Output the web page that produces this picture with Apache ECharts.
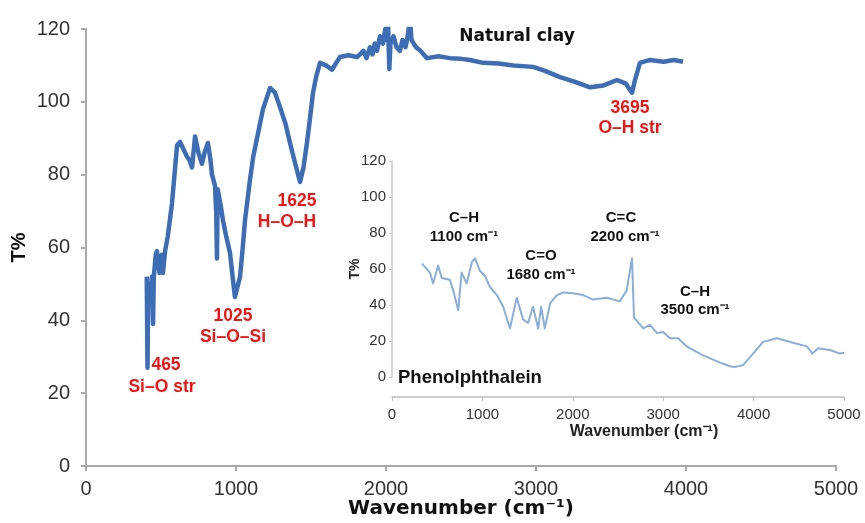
<!DOCTYPE html>
<html><head><meta charset="utf-8">
<script src="https://cdn.jsdelivr.net/npm/echarts@6/dist/echarts.min.js"></script>
<style>html,body{margin:0;padding:0;background:#fff}#c{width:865px;height:523px}</style>
</head><body><div id="c"></div>
<script>
// Natural clay spectrum (main)
const clayWavenumber = [405,410,415,420,440,447,452,465,473,490,505,513,527,545,573,590,607,627,650,673,690,707,727,750,773,790,813,830,840,860,868,873,878,900,913,935,960,980,993,1005,1027,1045,1060,1093,1115,1140,1180,1227,1260,1293,1330,1360,1395,1427,1450,1473,1495,1513,1535,1560,1600,1640,1665,1693,1750,1807,1850,1870,1893,1910,1925,1940,1960,1980,1995,2005,2013,2018,2022,2030,2050,2070,2093,2110,2130,2145,2160,2170,2185,2200,2230,2273,2350,2427,2500,2560,2647,2750,2850,2980,3060,3160,3260,3360,3450,3540,3600,3627,3640,3660,3693,3760,3850,3920,3980];
const clayT = [52,27,50,45,52,39,52,58,59,53,58,53,59,63,72,80,88,89,87,85,84,82,90.5,86,83,86,88.7,84,80,77,70,57,76,71,67.5,63,58.5,51,46.4,46,52,60,67.5,78.5,85,90,98,103.8,102.5,98.6,94,88.7,83,78,82,88.7,96,102.4,107,110.7,110,108.8,110.5,112.3,112.8,112.3,114,112,115,113,116,114,118,116,120,117,123,115,109,116,118,115,114,117,115,118,123,117,116,115,114,112,112.5,112,111.8,111.5,110.7,110.5,110,109.6,108.5,106.8,105.5,104,104.5,106,105,103.2,102.5,106,110.7,111.5,111,111.5,111];

// Phenolphthalein spectrum (inset)
const phenWavenumber = [332,420,455,510,550,640,678,733,770,826,885,918,973,1030,1084,1160,1230,1305,1380,1450,1505,1560,1617,1650,1690,1750,1825,1895,2000,2115,2225,2375,2520,2595,2655,2677,2780,2854,2930,3000,3075,3165,3260,3440,3630,3740,3790,3885,3995,4105,4260,4435,4590,4650,4715,4845,4955,5000];
const phenT = [63,58,52,62,55,54,48,37,58,52,64,66,59,56,50,45.5,39,27,44,32,30,39,27,39,27,41,45.5,47,46.5,45.5,43,44,42,48,66,33,27,29,24.5,25,21.5,21.5,17,12,8,6,5.5,6.7,13,19.5,21.5,19,17,13,16,15,13,13.5];

const xTicks = [0,1000,2000,3000,4000,5000];
const yTicks = [0,20,40,60,80,100,120];

const clayData = clayWavenumber.map((x,i)=>[x,clayT[i]]);
const phenData = phenWavenumber.map((x,i)=>[x,phenT[i]]);

const FONT = '"Liberation Sans", Arial, sans-serif';
const WIDE = '"DejaVu Sans", sans-serif';
const chart = echarts.init(document.getElementById('c'), null, {renderer:'canvas'});
const plain = v => String(v);

function redText(x, y, t){
  return {type:'text', x:x, y:y, style:{text:t, fill:'#f01414', font:'bold 17.5px '+FONT, align:'center', verticalAlign:'middle'}};
}
function blkText(x, y, t){
  return {type:'text', x:x, y:y, style:{text:t, fill:'#111', font:'bold 15px '+FONT, align:'center', verticalAlign:'middle'}};
}

chart.setOption({
  animation:false,
  backgroundColor:'#fff',
  grid:[
    {left:86, right:29, top:29, bottom:57, containLabel:false, outerBoundsMode:'none'},
    {left:392, right:21, top:161, bottom:146, containLabel:false, outerBoundsMode:'none'}
  ],
  xAxis:[
    {gridIndex:0, type:'value', min:0, max:5000, interval:1000,
     name:'Wavenumber (cm\u207B\u00B9)', nameLocation:'middle', nameGap:33, nameMoveOverlap:false,
     nameTextStyle:{fontFamily:WIDE, fontWeight:'bold', fontSize:20, color:'#111'},
     axisLine:{onZero:false, lineStyle:{color:'#a8a8a8', width:2}},
     axisTick:{show:true, length:5, lineStyle:{color:'#a8a8a8', width:2}},
     axisLabel:{fontFamily:FONT, fontSize:20, color:'#333', margin:13, formatter:plain},
     splitLine:{show:false}},
    {gridIndex:1, type:'value', min:0, max:5000, interval:1000, offset:20,
     name:'Wavenumber (cm\u207B\u00B9)', nameLocation:'middle', nameGap:27, nameMoveOverlap:false,
     nameTextStyle:{fontFamily:FONT, fontWeight:'bold', fontSize:16, color:'#222', padding:[0,0,0,52]},
     axisLine:{onZero:false, lineStyle:{color:'#bdbdbd', width:1.5}},
     axisTick:{show:true, length:4, lineStyle:{color:'#bdbdbd'}},
     axisLabel:{fontFamily:FONT, fontSize:15, color:'#333', margin:10, formatter:plain},
     splitLine:{show:false}}
  ],
  yAxis:[
    {gridIndex:0, type:'value', min:0, max:120, interval:20,
     name:'T%', nameLocation:'middle', nameGap:57, nameRotate:90, nameMoveOverlap:false,
     nameTextStyle:{fontFamily:FONT, fontWeight:'bold', fontSize:20, color:'#111'},
     axisLine:{show:true, onZero:false, lineStyle:{color:'#a8a8a8', width:2}},
     axisTick:{show:true, length:5, lineStyle:{color:'#a8a8a8', width:2}},
     axisLabel:{fontFamily:FONT, fontSize:20, color:'#333', margin:16, formatter:plain},
     splitLine:{show:false}},
    {gridIndex:1, type:'value', min:0, max:120, interval:20,
     name:'T%', nameLocation:'middle', nameGap:30, nameRotate:90, nameMoveOverlap:false,
     nameTextStyle:{fontFamily:FONT, fontWeight:'bold', fontSize:14, color:'#222'},
     axisLine:{show:true, onZero:false, lineStyle:{color:'#c8c8c8', width:1.5}},
     axisTick:{show:true, length:3, lineStyle:{color:'#c8c8c8'}},
     axisLabel:{fontFamily:FONT, fontSize:15, color:'#333', margin:6, formatter:plain},
     splitLine:{show:false}}
  ],
  series:[
    {type:'line', xAxisIndex:0, yAxisIndex:0, data:clayData, showSymbol:false,
     lineStyle:{color:'#3d6db4', width:4.5, join:'round'}, z:2},
    {type:'line', xAxisIndex:1, yAxisIndex:1, data:phenData, showSymbol:false,
     lineStyle:{color:'#8aaed8', width:2, join:'round'}, z:3}
  ],
  graphic:[
    {type:'text', x:517, y:37, style:{text:'Natural clay', fill:'#111', font:'bold 17px '+WIDE, align:'center', verticalAlign:'middle'}},
    {type:'text', x:398, y:378, style:{text:'Phenolphthalein', fill:'#111', font:'bold 18.5px '+FONT, align:'left', verticalAlign:'middle'}},
    redText(297, 201, '1625'), redText(287, 222, 'H\u2013O\u2013H'),
    redText(233, 316, '1025'), redText(233, 337, 'Si\u2013O\u2013Si'),
    redText(166, 365, '465'), redText(162, 387, 'Si\u2013O str'),
    redText(630, 108, '3695'), redText(630, 128, 'O\u2013H str'),
    blkText(464, 218, 'C\u2013H'), blkText(464, 237, '1100 cm\u207B\u00B9'),
    blkText(541, 256, 'C=O'), blkText(541, 275, '1680 cm\u207B\u00B9'),
    blkText(621, 218, 'C=C'), blkText(625, 237, '2200 cm\u207B\u00B9'),
    blkText(695, 292, 'C\u2013H'), blkText(695, 310, '3500 cm\u207B\u00B9')
  ]
});
</script>
</body></html>
